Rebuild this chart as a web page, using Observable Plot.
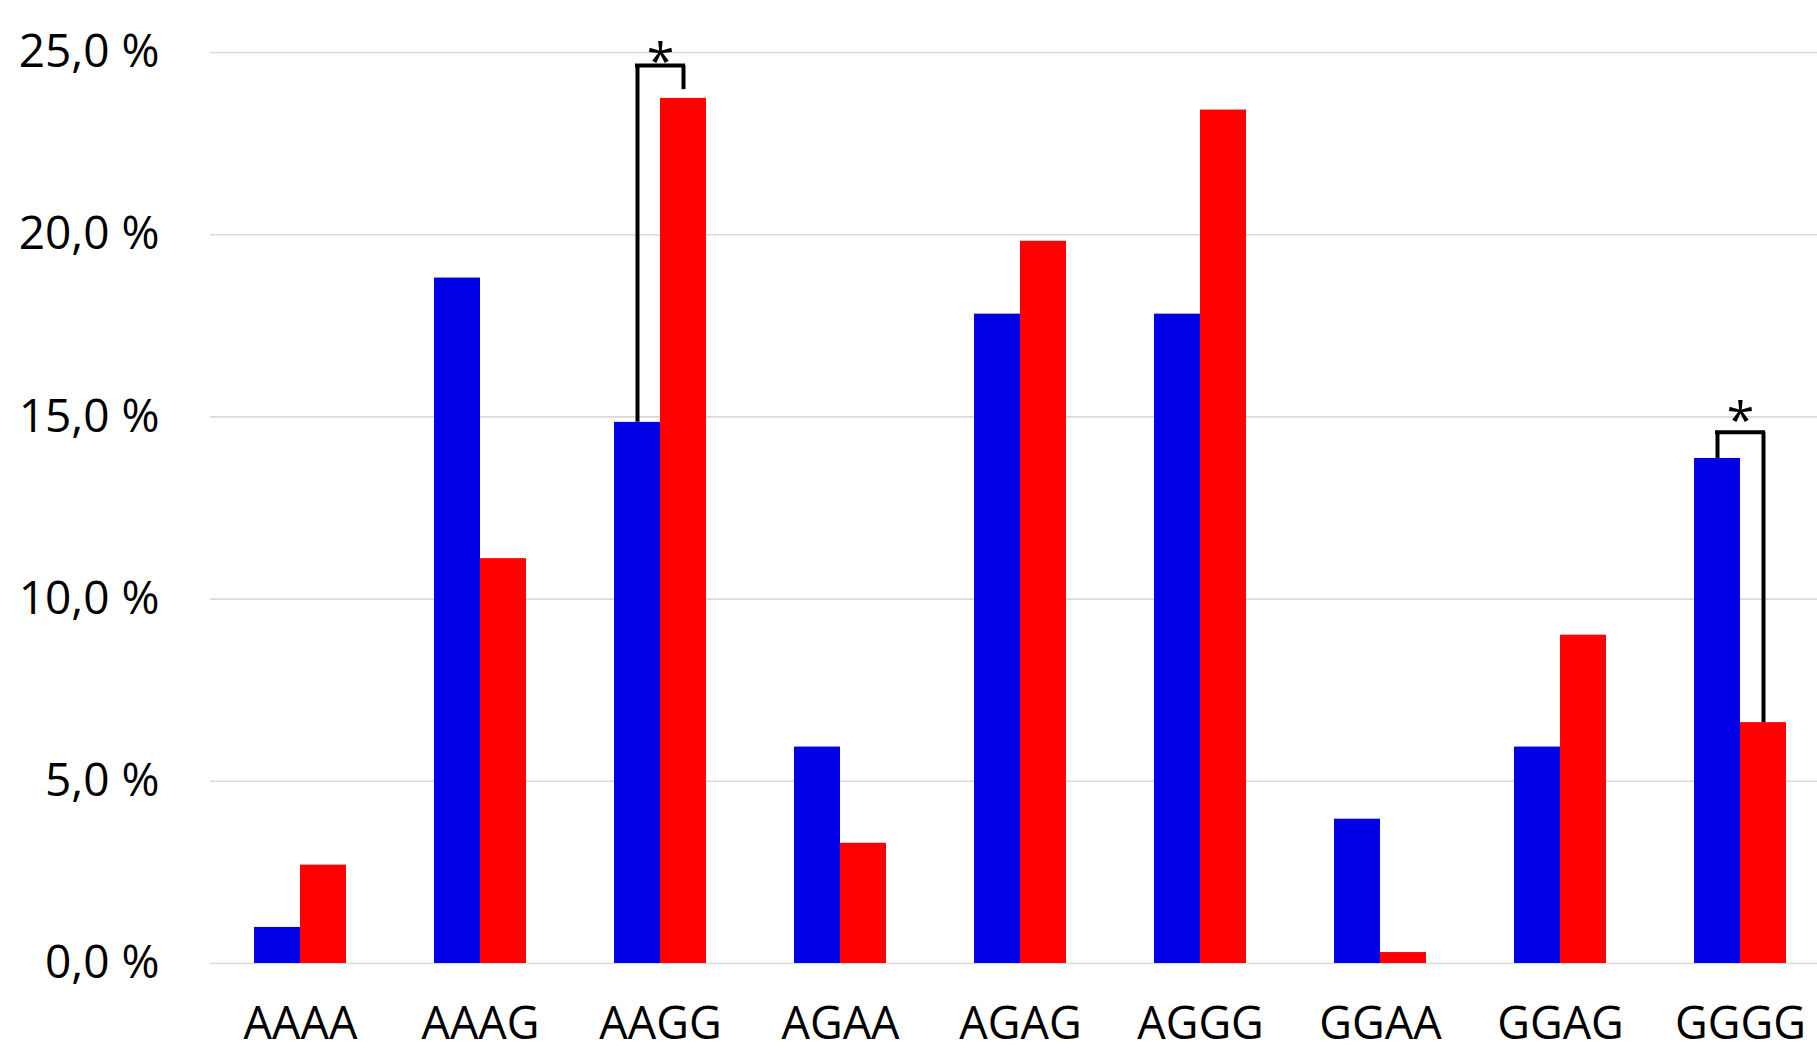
<!DOCTYPE html>
<html>
<head>
<meta charset="utf-8">
<script src="https://cdn.jsdelivr.net/npm/d3@7"></script>
<script src="https://cdn.jsdelivr.net/npm/@observablehq/plot@0.6"></script>
<style>
  html, body { margin: 0; padding: 0; background: #fff; }
  #chart svg { display: block; }
</style>
</head>
<body>
<div id="chart"></div>
<script>
// ---- data ----
const categories = ["AAAA", "AAAG", "AAGG", "AGAA", "AGAG", "AGGG", "GGAA", "GGAG", "GGGG"];
const blueValues = [0.99, 18.81, 14.85, 5.94, 17.82, 17.82, 3.96, 5.94, 13.86];
const redValues  = [2.70, 11.11, 23.74, 3.30, 19.82, 23.42, 0.30, 9.01, 6.61];
const yTicks = [0, 5, 10, 15, 20, 25];

// significance brackets (value units, %)
const sigCategories   = ["AAGG", "GGGG"];
const bracketTops     = [24.64, 14.58];
const bracketLeftEnd  = [14.85, 13.86];   // bottom of left (blue) leg
const bracketRightEnd = [23.98, 6.61];    // bottom of right (red) leg
const starPositions   = [24.72, 14.86];
const starLabels      = ["*", "*"];

const rows = categories.map((c, i) => ({category: c, blue: blueValues[i], red: redValues[i]}));
const brackets = sigCategories.map((c, i) => ({
  category: c, top: bracketTops[i], left: bracketLeftEnd[i], right: bracketRightEnd[i],
  star: starPositions[i], label: starLabels[i]
}));

const font = "'Open Sans', 'Noto Sans', sans-serif";
const fmt = d => d.toFixed(1).replace(".", ",") + " %";

const chart = Plot.plot({
  width: 1817,
  height: 1054,
  marginLeft: 210,
  marginRight: 0,
  marginTop: 52,
  marginBottom: 91,
  style: {fontFamily: font, background: "#fff", overflow: "hidden"},
  x: {domain: categories, range: [210, 1830], paddingInner: 88 / 180, paddingOuter: 44 / 180, round: false, label: null},
  y: {domain: [0, 25], label: null},
  marks: [
    Plot.gridY(yTicks, {stroke: "#d9d9d9", strokeOpacity: 1, strokeWidth: 1.6}),
    Plot.axisY(yTicks, {tickSize: 0, tickPadding: 51, tickFormat: fmt, fontSize: 46, fill: "#000", label: null}),
    Plot.axisX({tickSize: 0, tickPadding: 44, fontSize: 45, fill: "#000", label: null}),
    Plot.barY(rows, {x: "category", y: "blue", fill: "#0000e6", insetRight: 46}),
    Plot.barY(rows, {x: "category", y: "red", fill: "#ff0000", insetLeft: 46}),
    // bracket legs
    Plot.ruleX(brackets, {x: "category", y1: "left", y2: "top", dx: -23, stroke: "#000", strokeWidth: 4}),
    Plot.ruleX(brackets, {x: "category", y1: "right", y2: "top", dx: 23, stroke: "#000", strokeWidth: 4}),
    // bracket bar
    Plot.tickY(brackets, {x: "category", y: "top", insetLeft: 21, insetRight: 21, stroke: "#000", strokeWidth: 4}),
    Plot.text(brackets, {x: "category", y: "star", text: "label", fontSize: 50, fill: "#000", lineAnchor: "middle"})
  ]
});
document.getElementById("chart").appendChild(chart);
</script>
</body>
</html>
